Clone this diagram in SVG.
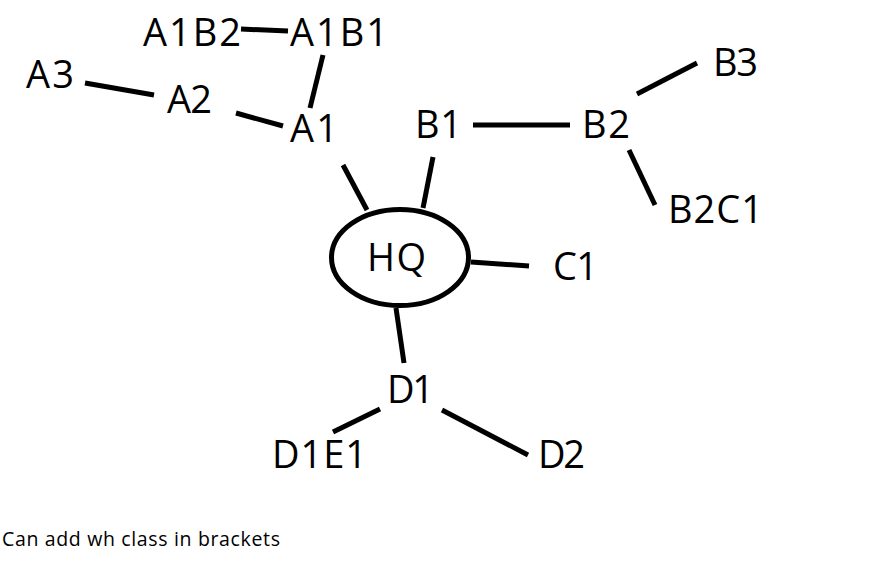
<svg xmlns="http://www.w3.org/2000/svg" width="872" height="570" viewBox="0 0 872 570">
<style>
.lbl{font-family:"Open Sans","Liberation Sans",sans-serif;font-size:38px;fill:#000}
.note{font-family:"Open Sans","Liberation Sans",sans-serif;font-size:19.5px;fill:#000}
.c line{stroke:#000;stroke-width:5;stroke-linecap:butt}
</style>
<rect width="872" height="570" fill="#fff"/>
<g class="c" id="connectors">
<line x1="241" y1="29" x2="288" y2="31"/>
<line x1="323" y1="55" x2="310" y2="108"/>
<line x1="85" y1="83" x2="154" y2="95"/>
<line x1="236" y1="113" x2="283" y2="126"/>
<line x1="343" y1="165" x2="367" y2="210"/>
<line x1="433" y1="157" x2="423" y2="208"/>
<line x1="473" y1="125" x2="570" y2="125"/>
<line x1="637" y1="94" x2="697" y2="63"/>
<line x1="629" y1="150" x2="655" y2="205"/>
<line x1="471" y1="262" x2="529" y2="266"/>
<line x1="396" y1="308" x2="404" y2="363"/>
<line x1="380" y1="409" x2="333" y2="432"/>
<line x1="442" y1="410" x2="528" y2="455"/>
</g>
<g id="A1B2"><text class="lbl" x="143" y="46" textLength="98">A1B2</text></g>
<g id="A1B1"><text class="lbl" x="290" y="46" textLength="98">A1B1</text></g>
<g id="A3"><text class="lbl" x="26" y="88" textLength="48">A3</text></g>
<g id="A2"><text class="lbl" x="167" y="113" textLength="45">A2</text></g>
<g id="A1"><text class="lbl" x="290" y="142" textLength="48">A1</text></g>
<g id="B1"><text class="lbl" x="415" y="138" textLength="47">B1</text></g>
<g id="B2"><text class="lbl" x="582" y="138" textLength="48">B2</text></g>
<g id="B3"><text class="lbl" x="713" y="76" textLength="45">B3</text></g>
<g id="B2C1"><text class="lbl" x="668" y="223" textLength="95">B2C1</text></g>
<g id="HQ">
<ellipse cx="400" cy="257.5" rx="68.5" ry="48" fill="none" stroke="#000" stroke-width="5"/>
<text class="lbl" x="367" y="271" textLength="59">HQ</text>
</g>
<g id="C1"><text class="lbl" x="553" y="280" textLength="45">C1</text></g>
<g id="D1"><text class="lbl" x="387" y="403" textLength="47">D1</text></g>
<g id="D1E1"><text class="lbl" x="272" y="468" textLength="95">D1E1</text></g>
<g id="D2"><text class="lbl" x="538" y="468" textLength="47">D2</text></g>
<text class="note" x="2" y="546" textLength="278">Can add wh class in brackets</text>
</svg>
